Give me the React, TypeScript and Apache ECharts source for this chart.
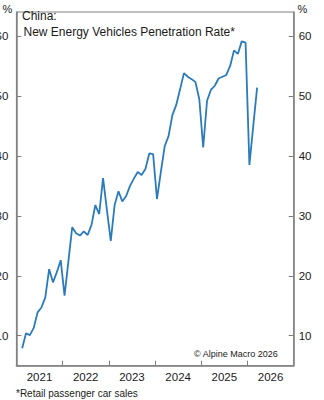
import React, { useEffect, useRef } from "react";
import * as echarts from "echarts";

// Monthly retail NEV penetration rate (%), Feb 2021 .. Mar 2026
const startMonthIndex = 1; // months after Jan 2021 (Feb 2021)
const penetration = [
  7.9, 10.4, 10.1, 11.3, 13.9, 14.7, 16.4, 21.1, 18.9, 20.6, 22.6,
  16.7, 22.4, 28.1, 27.1, 26.7, 27.4, 26.8, 28.5, 31.8, 30.3, 36.3, 31.0,
  25.8, 31.8, 34.1, 32.4, 33.3, 35.0, 36.2, 37.3, 36.8, 37.8, 40.4, 40.3,
  32.8, 37.3, 41.6, 43.3, 46.8, 48.5, 51.1, 53.8, 53.2, 52.8, 52.3, 49.4,
  41.4, 49.2, 51.0, 51.7, 52.9, 53.2, 53.5, 55.0, 57.6, 57.0, 59.1, 58.9,
  38.5, 45.0, 51.4,
];
const years = ["2021", "2022", "2023", "2024", "2025", "2026"];
const xTickValues = [12, 24, 36, 48, 60];
const xLabelValues = [6, 18, 30, 42, 54, 66];
const yTickValues = [10, 20, 30, 40, 50, 60];

const FONT = "'Liberation Sans', Arial, sans-serif";
const TEXT = "#1a1a1a";
const AXIS = "#808080";
const LINE = "#2a7bbb";

export default function App() {
  const ref = useRef<HTMLDivElement>(null);
  useEffect(() => {
    if (!ref.current) return;
    const chart = echarts.init(ref.current, null, { renderer: "svg" });
    const data = penetration.map((v, i) => [startMonthIndex + i + 0.5, v]);
    const yAxisBase = (pos: "left" | "right") => ({
      type: "value",
      position: pos,
      min: 5,
      max: 64,
      axisLine: { show: true, lineStyle: { color: AXIS, width: 1.5 } },
      axisTick: {
        show: true,
        inside: true,
        length: 5,
        customValues: yTickValues,
        lineStyle: { color: AXIS, width: 1 },
      },
      axisLabel: {
        customValues: yTickValues,
        margin: pos === "left" ? 8 : 5,
        fontSize: 11.5,
        color: TEXT,
        fontFamily: FONT,
      },
      splitLine: { show: false },
    });
    chart.setOption({
      animation: false,
      grid: {
        left: 16.4,
        right: 30.3,
        top: 12,
        bottom: 34.3,
        show: true,
        borderColor: AXIS,
        borderWidth: 1,
        containLabel: false,
        outerBoundsMode: "none",
      },
      xAxis: {
        type: "value",
        min: 0,
        max: 72,
        axisLine: { show: true, lineStyle: { color: AXIS, width: 1.5 } },
        axisTick: {
          show: true,
          inside: true,
          length: 5,
          customValues: xTickValues,
          lineStyle: { color: AXIS, width: 1 },
        },
        axisLabel: {
          customValues: xLabelValues,
          formatter: (v: number) => years[Math.round((v - 6) / 12)] ?? "",
          margin: 5,
          fontSize: 11.5,
          color: TEXT,
          fontFamily: FONT,
        },
        splitLine: { show: false },
      },
      yAxis: [yAxisBase("left"), yAxisBase("right")],
      series: [
        {
          type: "line",
          data,
          yAxisIndex: 0,
          showSymbol: false,
          lineStyle: { color: LINE, width: 1.8 },
        },
      ],
      graphic: [
        { type: "text", x: 7.5, y: 9, style: { text: "%", fill: TEXT, font: `11px ${FONT}`, align: "center", verticalAlign: "middle" } },
        { type: "text", x: 302.5, y: 9, style: { text: "%", fill: TEXT, font: `11px ${FONT}`, align: "center", verticalAlign: "middle" } },
        { type: "text", x: 22, y: 16, style: { text: "China:", fill: TEXT, font: `12px ${FONT}`, align: "left", verticalAlign: "middle" } },
        { type: "text", x: 23.5, y: 32, style: { text: "New Energy Vehicles Penetration Rate*", fill: TEXT, font: `12px ${FONT}`, align: "left", verticalAlign: "middle" } },
        { type: "text", x: 194, y: 354, style: { text: "© Alpine Macro 2026", fill: TEXT, font: `9px ${FONT}`, align: "left", verticalAlign: "middle" } },
        { type: "text", x: 16, y: 393, style: { text: "*Retail passenger car sales", fill: TEXT, font: `10px ${FONT}`, align: "left", verticalAlign: "middle" } },
      ],
    });
    return () => chart.dispose();
  }, []);
  return (
    <div
      ref={ref}
      style={{ position: "absolute", left: 0, top: 0, width: 324, height: 400 }}
    />
  );
}
